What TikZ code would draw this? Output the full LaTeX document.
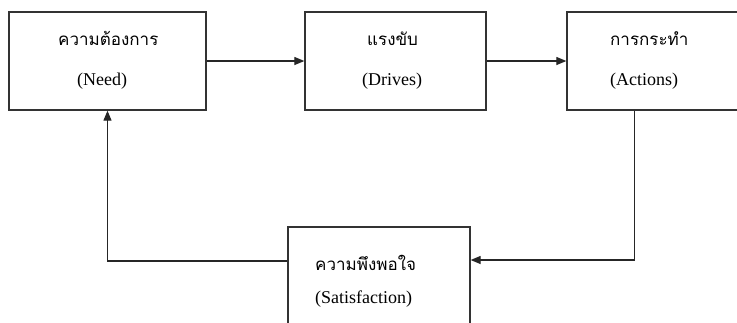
\documentclass[tikz,border=0pt]{standalone}
\usepackage{fontspec}
\setmainfont{Liberation Serif}
\newfontfamily\thaifont[Script=Thai]{Loma}
\usetikzlibrary{arrows.meta}
\tikzset{
  box/.style={draw=black!80, line width=1.3pt, rectangle, inner sep=0pt},
  th/.style={font=\thaifont\fontsize{17}{20}\selectfont, inner sep=0pt, anchor=base west},
  en/.style={font=\fontsize{18}{21}\selectfont, inner sep=0pt, anchor=base west},
  arr/.style={draw=black!85, line width=1.2pt, -{Triangle[length=10pt,width=8pt]}}
}
\begin{document}
\begin{tikzpicture}[x=1pt,y=-1pt]
\useasboundingbox[fill=white] (0,0) rectangle (737,322);
% boxes
\node[box, minimum width=197pt, minimum height=98pt] (need) at (107.5,61) {};
\node[box, minimum width=181pt, minimum height=98pt] (drives) at (395.5,61) {};
\node[box, minimum width=180pt, minimum height=98pt] (actions) at (657,61) {};
\node[box, minimum width=182pt, minimum height=106pt] (sat) at (379,280) {};
% texts
\node[th] (t1) at (58,45) {ความต้องการ};
\node[en] (e1) at (77,85) {(Need)};
\node[th] (t2) at (367,45) {แรงขับ};
\node[en] (e2) at (362,85) {(Drives)};
\node[th] (t3) at (610,45) {การกระทำ};
\node[en] (e3) at (610,85) {(Actions)};
\node[th] (t4) at (315,270) {ความพึงพอใจ};
\node[en] (e4) at (315,303) {(Satisfaction)};
% connectors
\draw[arr] (need.east) -- (drives.west);
\draw[arr] (drives.east) -- (actions.west);
\draw[arr] ([xshift=68pt]actions.south west) |- ([yshift=20pt]sat.east);
\draw[arr] ([yshift=19pt]sat.west) -| (need.south);
\end{tikzpicture}
\end{document}
